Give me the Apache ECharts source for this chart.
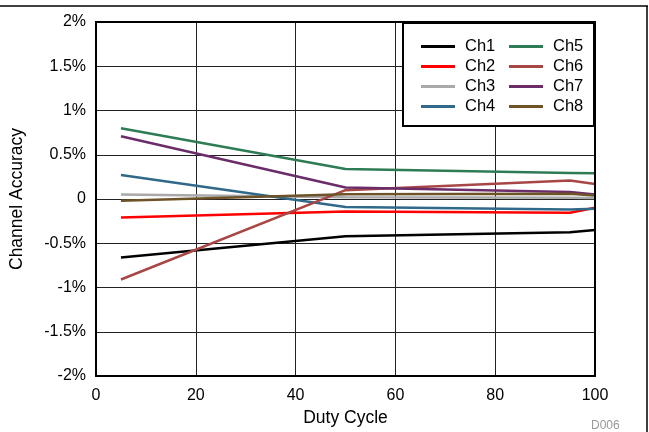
<!DOCTYPE html>
<html>
<head>
<meta charset="utf-8">
<script src="https://cdn.jsdelivr.net/npm/echarts@6/dist/echarts.min.js"></script>
<style>html,body{margin:0;padding:0;background:#fff}#c{width:649px;height:432px}</style>
</head>
<body>
<div id="c"></div>
<script>
var dutyCycle = [5, 50, 95, 100];
var ch1 = [-0.66, -0.42, -0.375, -0.35];
var ch2 = [-0.21, -0.14, -0.155, -0.10];
var ch3 = [0.05, 0.02, 0.015, 0.01];
var ch4 = [0.27, -0.09, -0.12, -0.11];
var ch5 = [0.80, 0.34, 0.295, 0.29];
var ch6 = [-0.91, 0.10, 0.21, 0.17];
var ch7 = [0.71, 0.13, 0.08, 0.05];
var ch8 = [-0.02, 0.055, 0.06, 0.04];
var names = ['Ch1','Ch2','Ch3','Ch4','Ch5','Ch6','Ch7','Ch8'];
var values = [ch1, ch2, ch3, ch4, ch5, ch6, ch7, ch8];
var colors = ['#000000','#FF0000','#A9A9A9','#30698A','#2E7C55','#A84646','#6A2D6A','#6D5327'];
var xTicks = [0, 20, 40, 60, 80, 100];
var yTicks = [-2, -1.5, -1, -0.5, 0, 0.5, 1, 1.5, 2];

var font = 'Liberation Sans, Arial, sans-serif';
var series = names.map(function (n, i) {
  return {
    name: n, type: 'line', symbol: 'none', smooth: false,
    data: dutyCycle.map(function (x, j) { return [x, values[i][j]]; }),
    lineStyle: { color: colors[i], width: 2.5 },
    itemStyle: { color: colors[i] },
    z: 3
  };
});

var legendCommon = {
  orient: 'vertical', top: 33, itemWidth: 34, itemHeight: 3, itemGap: 3,
  icon: 'rect', z: 110,
  textStyle: { fontFamily: font, fontSize: 16.5, color: '#000', lineHeight: 16, padding: [0, 0, 0, 5] }
};

var chart = echarts.init(document.getElementById('c'));
chart.setOption({
  animation: false,
  color: colors,
  grid: { left: 92, right: 54, top: 22, bottom: 56, show: true, borderColor: '#000', borderWidth: 2, z: 5 },
  xAxis: {
    type: 'value', min: 0, max: 100, interval: 20,
    name: 'Duty Cycle', nameLocation: 'middle', nameGap: 33,
    nameTextStyle: { fontFamily: font, fontSize: 17.5, color: '#000' },
    axisLine: { show: false }, axisTick: { show: false },
    axisLabel: { fontFamily: font, fontSize: 16, color: '#000', margin: 12 },
    splitLine: { show: true, lineStyle: { color: '#222', width: 1 } }
  },
  yAxis: {
    type: 'value', min: -2, max: 2, interval: 0.5,
    name: 'Channel Accuracy', nameLocation: 'middle', nameGap: 70,
    nameTextStyle: { fontFamily: font, fontSize: 17.5, color: '#000' },
    axisLine: { show: false }, axisTick: { show: false },
    axisLabel: { fontFamily: font, fontSize: 16, color: '#000', margin: 10,
      formatter: function (v) { return v === 0 ? '0' : v + '%'; } },
    splitLine: { show: true, lineStyle: { color: '#222', width: 1 } }
  },
  legend: [
    Object.assign({}, legendCommon, { left: 416, data: names.slice(0, 4) }),
    Object.assign({}, legendCommon, { left: 504, data: names.slice(4, 8) })
  ],
  graphic: [
    { type: 'rect', z: 100, shape: { x: 403, y: 23, width: 191, height: 103 },
      style: { fill: '#fff', stroke: '#000', lineWidth: 2 } },
    { type: 'line', z: 100, shape: { x1: 0, y1: 6, x2: 648, y2: 6 },
      style: { stroke: '#000', lineWidth: 1.5 } },
    { type: 'line', z: 100, shape: { x1: 647, y1: 6, x2: 647, y2: 432 },
      style: { stroke: '#000', lineWidth: 1.5 } },
    { type: 'text', z: 100, left: 591, top: 420,
      style: { text: 'D006', fontFamily: font, fontSize: 12, fill: '#999' } }
  ],
  series: series
});
</script>
</body>
</html>
